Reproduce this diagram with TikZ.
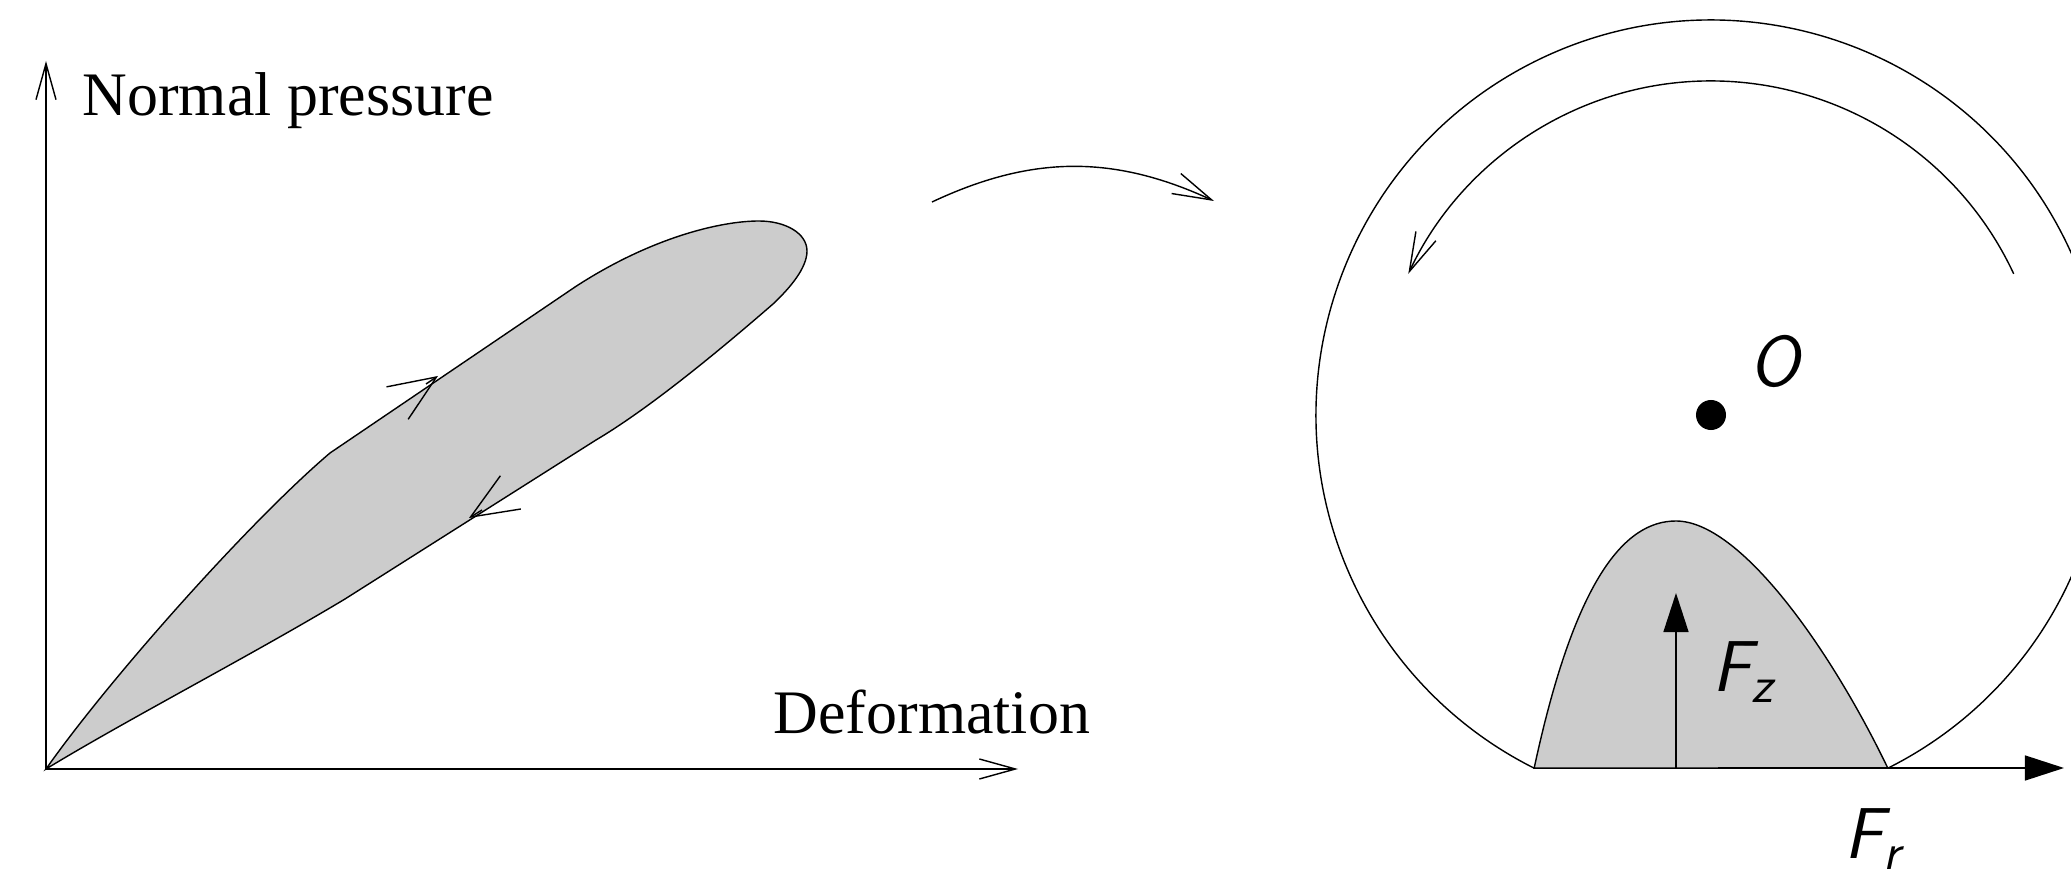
\documentclass[tikz,border=0pt]{standalone}
\usepackage{fontspec}
\setmainfont{Liberation Serif}
\usetikzlibrary{arrows.meta,calc}

\begin{document}
\begin{tikzpicture}[x=0.01cm,y=0.01cm,line width=0.4pt,
   axis/.style={-{Straight Barb[length=3.6mm,width=2mm]}},
   barb/.style={-{Straight Barb[length=4.7mm,width=3.9mm]}},
   turn/.style={-{Straight Barb[length=3.9mm,width=2.2mm]}},
   force/.style={-{Triangle[length=3.9mm,width=2.5mm]}},
   loadfill/.style={fill=black!20,draw=black},
   lbl/.style={font=\fontsize{17.6}{20}\selectfont,inner sep=0,anchor=base west},
   flbl/.style={font=\fontsize{20.5}{24}\selectfont\sffamily\itshape,inner sep=0,anchor=base west}]
  \clip (0,0) rectangle (2071,878);

  % hysteresis loop
  \coordinate (org) at (46,109);
  \coordinate (ytop) at (46,817);
  \coordinate (xend) at (1018,109);
  \draw[loadfill] (org) .. controls (110,200) and (250,357) .. (330,425) -- (575,591)
    .. controls (650,640) and (720,657) .. (759,657)
    .. controls (785,657) and (807,645) .. (807,627)
    .. controls (807,610) and (790,590) .. (773,574)
    .. controls (720,528) and (650,470) .. (596,438) -- (345,279)
    .. controls (250,222) and (130,160) .. (org) -- cycle;
  \draw[axis] (org) -- (ytop);
  \draw[axis] (org) -- (xend);
  \coordinate (up1) at (426,494);
  \coordinate (up2) at (438,502);
  \coordinate (dn1) at (482,368);
  \coordinate (dn2) at (469,360);
  \draw[barb] (up1) -- (up2);
  \draw[barb] (dn1) -- (dn2);
  \node[lbl] (np) at (82,762) {Normal pressure};
  \node[lbl] (def) at (773,144) {Deformation};

  % link
  \coordinate (la) at (932,676);
  \coordinate (lb) at (1214,677);
  \draw[turn] (la) to[bend left=25] (lb);

  % wheel
  \coordinate (c) at (1711,463);
  \coordinate (pl) at ($(c)+(243.4:395)$);
  \coordinate (pr) at ($(c)+(-63.4:395)$);
  \coordinate (peak) at (1676,357);
  \draw[loadfill] (pl) .. controls (1575,300) and (1625,357) .. (peak)
    .. controls (1740,357) and (1830,230) .. (pr) -- cycle;
  \draw (pr) arc[start angle=-63.4,end angle=243.4,radius=395];
  \draw[turn] ($(c)+(25:334)$) arc[start angle=25,end angle=155,radius=334];
  \node[circle,fill,inner sep=0,minimum size=0.3cm] (dot) at (c) {};
  \node[flbl] (olab) at (1749,491) {O};

  % forces
  \coordinate (fzb) at (1676,110);
  \coordinate (fzt) at (1676,285);
  \coordinate (frb) at (1718,110);
  \coordinate (frt) at (2064,110);
  \draw[force] (fzb) -- (fzt);
  \draw[force] (frb) -- (frt);
  \node[flbl] (fz) at (1712,186) {F\textsubscript{z}};
  \node[flbl] (fr) at (1844,19) {F\textsubscript{r}};
\end{tikzpicture}
\end{document}
